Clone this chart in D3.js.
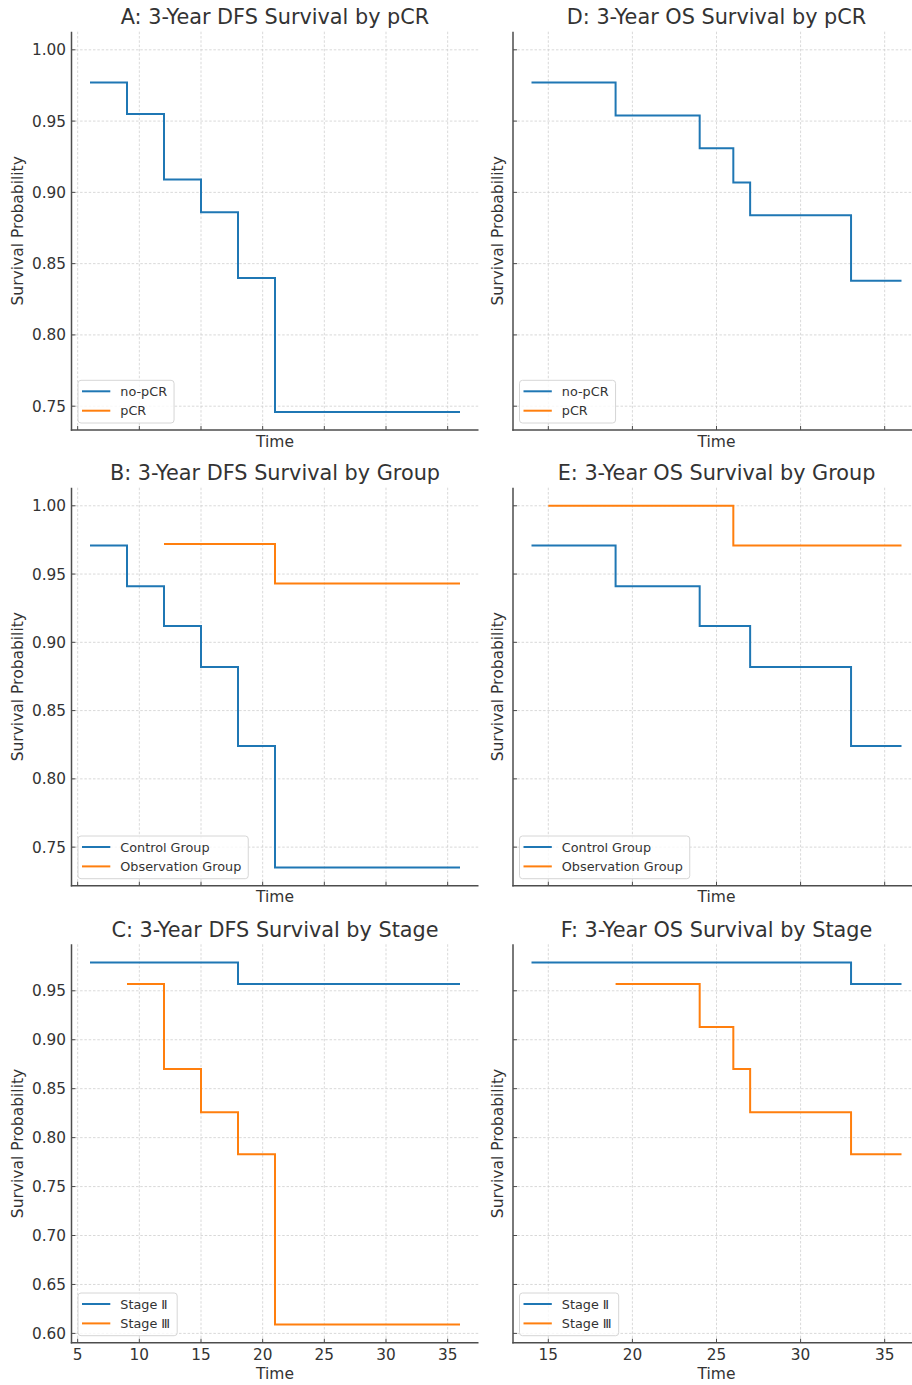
<!DOCTYPE html>
<meta charset="utf-8">
<style>
body { margin: 0; background: #fff; }
svg { display: block; font-family: "DejaVu Sans", sans-serif; }
.grid line { stroke: #cfcfcf; stroke-width: 0.8px; stroke-dasharray: 2.5,1.8; }
.spine { stroke: #4d4d4d; stroke-width: 1.5px; }
.tick-mark { stroke: #4d4d4d; stroke-width: 1px; }
.tick-label, .axis-label, .title, .legend text { fill: #333; }
.km { fill: none; stroke-width: 2px; }
</style>
<svg width="912" height="1385"></svg>
<script src="https://d3js.org/d3.v7.min.js"></script>
<script>
// ---- data ----
var dfsNoPcrTimes = [6, 9, 12, 15, 18, 21, 36];
var dfsNoPcrSurv  = [0.977, 0.955, 0.909, 0.886, 0.840, 0.746, 0.746];
var dfsPcrTimes   = [36];
var dfsPcrSurv    = [1.0];

var osNoPcrTimes  = [14, 19, 24, 26, 27, 33, 36];
var osNoPcrSurv   = [0.977, 0.954, 0.931, 0.907, 0.884, 0.838, 0.838];
var osPcrTimes    = [36];
var osPcrSurv     = [1.0];

var dfsCtrlTimes  = [6, 9, 12, 15, 18, 21, 36];
var dfsCtrlSurv   = [0.971, 0.941, 0.912, 0.882, 0.824, 0.735, 0.735];
var dfsObsTimes   = [12, 21, 36];
var dfsObsSurv    = [0.972, 0.943, 0.943];

var osCtrlTimes   = [14, 19, 24, 27, 33, 36];
var osCtrlSurv    = [0.971, 0.941, 0.912, 0.882, 0.824, 0.824];
var osObsTimes    = [15, 26, 36];
var osObsSurv     = [1.0, 0.971, 0.971];

var dfsSt2Times   = [6, 18, 36];
var dfsSt2Surv    = [0.979, 0.957, 0.957];
var dfsSt3Times   = [9, 12, 15, 18, 21, 36];
var dfsSt3Surv    = [0.957, 0.870, 0.826, 0.783, 0.609, 0.609];

var osSt2Times    = [14, 33, 36];
var osSt2Surv     = [0.979, 0.957, 0.957];
var osSt3Times    = [19, 24, 26, 27, 33, 36];
var osSt3Surv     = [0.957, 0.913, 0.870, 0.826, 0.783, 0.783];

var xTicksLeft  = [5, 10, 15, 20, 25, 30, 35];
var xTicksRight = [15, 20, 25, 30, 35];
var yTicksRow   = [[0.75, 0.80, 0.85, 0.90, 0.95, 1.00],
                   [0.75, 0.80, 0.85, 0.90, 0.95, 1.00],
                   [0.60, 0.65, 0.70, 0.75, 0.80, 0.85, 0.90, 0.95]];

var titles = ["A: 3-Year DFS Survival by pCR", "D: 3-Year OS Survival by pCR",
              "B: 3-Year DFS Survival by Group", "E: 3-Year OS Survival by Group",
              "C: 3-Year DFS Survival by Stage", "F: 3-Year OS Survival by Stage"];
var labelsPcr   = ["no-pCR", "pCR"];
var labelsGroup = ["Control Group", "Observation Group"];
var labelsStage = ["Stage \u2161", "Stage \u2162"];

function series(times, surv) {
  return times.map(function(t, i) { return {t: t, s: surv[i]}; });
}

var panels = [
  {row: 0, col: 0, title: titles[0], labels: labelsPcr,   data: [series(dfsNoPcrTimes, dfsNoPcrSurv), series(dfsPcrTimes, dfsPcrSurv)]},
  {row: 0, col: 1, title: titles[1], labels: labelsPcr,   data: [series(osNoPcrTimes, osNoPcrSurv), series(osPcrTimes, osPcrSurv)]},
  {row: 1, col: 0, title: titles[2], labels: labelsGroup, data: [series(dfsCtrlTimes, dfsCtrlSurv), series(dfsObsTimes, dfsObsSurv)]},
  {row: 1, col: 1, title: titles[3], labels: labelsGroup, data: [series(osCtrlTimes, osCtrlSurv), series(osObsTimes, osObsSurv)]},
  {row: 2, col: 0, title: titles[4], labels: labelsStage, data: [series(dfsSt2Times, dfsSt2Surv), series(dfsSt3Times, dfsSt3Surv)]},
  {row: 2, col: 1, title: titles[5], labels: labelsStage, data: [series(osSt2Times, osSt2Surv), series(osSt3Times, osSt3Surv)]}
];

var colors = ["#1f77b4", "#ff7f0e"];

// ---- layout ----
var colX = [[71.5, 478.5], [513, 920]];
var rowY = [[31.7, 430], [487.7, 885.7], [944.3, 1342.7]];

function padded(ext) {
  var m = (ext[1] - ext[0]) * 0.05;
  return [ext[0] - m, ext[1] + m];
}

// shared x per column, shared y per row
var xScales = [0, 1].map(function(c) {
  var pts = d3.merge(panels.filter(function(p) { return p.col === c; })
    .map(function(p) { return d3.merge(p.data); }));
  return d3.scaleLinear().domain(padded(d3.extent(pts, function(d) { return d.t; }))).range(colX[c]);
});
var yScales = [0, 1, 2].map(function(r) {
  var pts = d3.merge(panels.filter(function(p) { return p.row === r; })
    .map(function(p) { return d3.merge(p.data); }));
  return d3.scaleLinear().domain(padded(d3.extent(pts, function(d) { return d.s; }))).range([rowY[r][1], rowY[r][0]]);
});

var svg = d3.select("svg");
var fmt = d3.format(".2f");

panels.forEach(function(p) {
  var x = xScales[p.col], y = yScales[p.row];
  var xr = colX[p.col], yr = rowY[p.row];
  var xt = p.col === 0 ? xTicksLeft : xTicksRight;
  var yt = yTicksRow[p.row];
  var g = svg.append("g");

  var grid = g.append("g").attr("class", "grid");
  grid.selectAll(".gx").data(xt).enter().append("line")
      .attr("x1", x).attr("x2", x).attr("y1", yr[0]).attr("y2", yr[1]);
  grid.selectAll(".gy").data(yt).enter().append("line")
      .attr("x1", xr[0]).attr("x2", xr[1]).attr("y1", y).attr("y2", y);

  var line = d3.line().curve(d3.curveStepAfter)
      .x(function(d) { return x(d.t); })
      .y(function(d) { return y(d.s); });
  p.data.forEach(function(s, i) {
    g.append("path").attr("class", "km").attr("stroke", colors[i]).attr("d", line(s));
  });

  // spines (left, bottom) and inward ticks
  g.append("line").attr("class", "spine").attr("x1", xr[0]).attr("x2", xr[0]).attr("y1", yr[0]).attr("y2", yr[1] + 0.7);
  g.append("line").attr("class", "spine").attr("x1", xr[0] - 0.7).attr("x2", xr[1]).attr("y1", yr[1]).attr("y2", yr[1]);
  g.selectAll(".tx").data(xt).enter().append("line").attr("class", "tick-mark")
      .attr("x1", x).attr("x2", x).attr("y1", yr[1]).attr("y2", yr[1] - 4);
  g.selectAll(".ty").data(yt).enter().append("line").attr("class", "tick-mark")
      .attr("x1", xr[0]).attr("x2", xr[0] + 4).attr("y1", y).attr("y2", y);

  if (p.col === 0) {
    g.selectAll(".yl").data(yt).enter().append("text").attr("class", "tick-label")
        .attr("x", xr[0] - 5.5).attr("y", y).attr("dy", "0.36em")
        .attr("text-anchor", "end").style("font-size", "15.3px")
        .text(fmt);
  }
  if (p.row === 2) {
    g.selectAll(".xl").data(xt).enter().append("text").attr("class", "tick-label")
        .attr("x", x).attr("y", yr[1] + 17).attr("text-anchor", "middle")
        .style("font-size", "15.3px").text(function(d) { return d; });
  }

  var cx = (xr[0] + xr[1]) / 2;
  g.append("text").attr("class", "title").attr("x", cx).attr("y", yr[0] - 7.3)
      .attr("text-anchor", "middle").style("font-size", "20.8px").text(p.title);
  g.append("text").attr("class", "axis-label").attr("x", cx)
      .attr("y", yr[1] + (p.row === 2 ? 36.6 : 16.7))
      .attr("text-anchor", "middle").style("font-size", "15.5px").text("Time");
  var ly = (yr[0] + yr[1]) / 2, lx = xr[0] - (p.col === 0 ? 48.5 : 10);
  g.append("text").attr("class", "axis-label")
      .attr("transform", "translate(" + lx + "," + ly + ") rotate(-90)")
      .attr("text-anchor", "middle").style("font-size", "15.5px").text("Survival Probability");

  // legend, lower left
  var lg = g.append("g").attr("class", "legend");
  var box = lg.append("rect").attr("rx", 3).attr("ry", 3)
      .attr("fill", "#fff").attr("fill-opacity", 0.8)
      .attr("stroke", "#d6d6d6").attr("stroke-width", 1);
  var bx = xr[0] + 6.5, bh = 42.7, by = yr[1] - 7 - bh;
  var maxW = 0;
  p.labels.forEach(function(lab, i) {
    var ry = by + 11 + i * 19.4;
    lg.append("line").attr("x1", bx + 4).attr("x2", bx + 32.3).attr("y1", ry).attr("y2", ry)
        .attr("stroke", colors[i]).attr("stroke-width", 2);
    var t = lg.append("text").attr("x", bx + 42.3).attr("y", ry).attr("dy", "0.36em")
        .style("font-size", "12.8px").text(lab);
    maxW = Math.max(maxW, t.node().getComputedTextLength());
  });
  box.attr("x", bx).attr("y", by).attr("width", 42.3 + maxW + 7).attr("height", bh);
});
</script>
